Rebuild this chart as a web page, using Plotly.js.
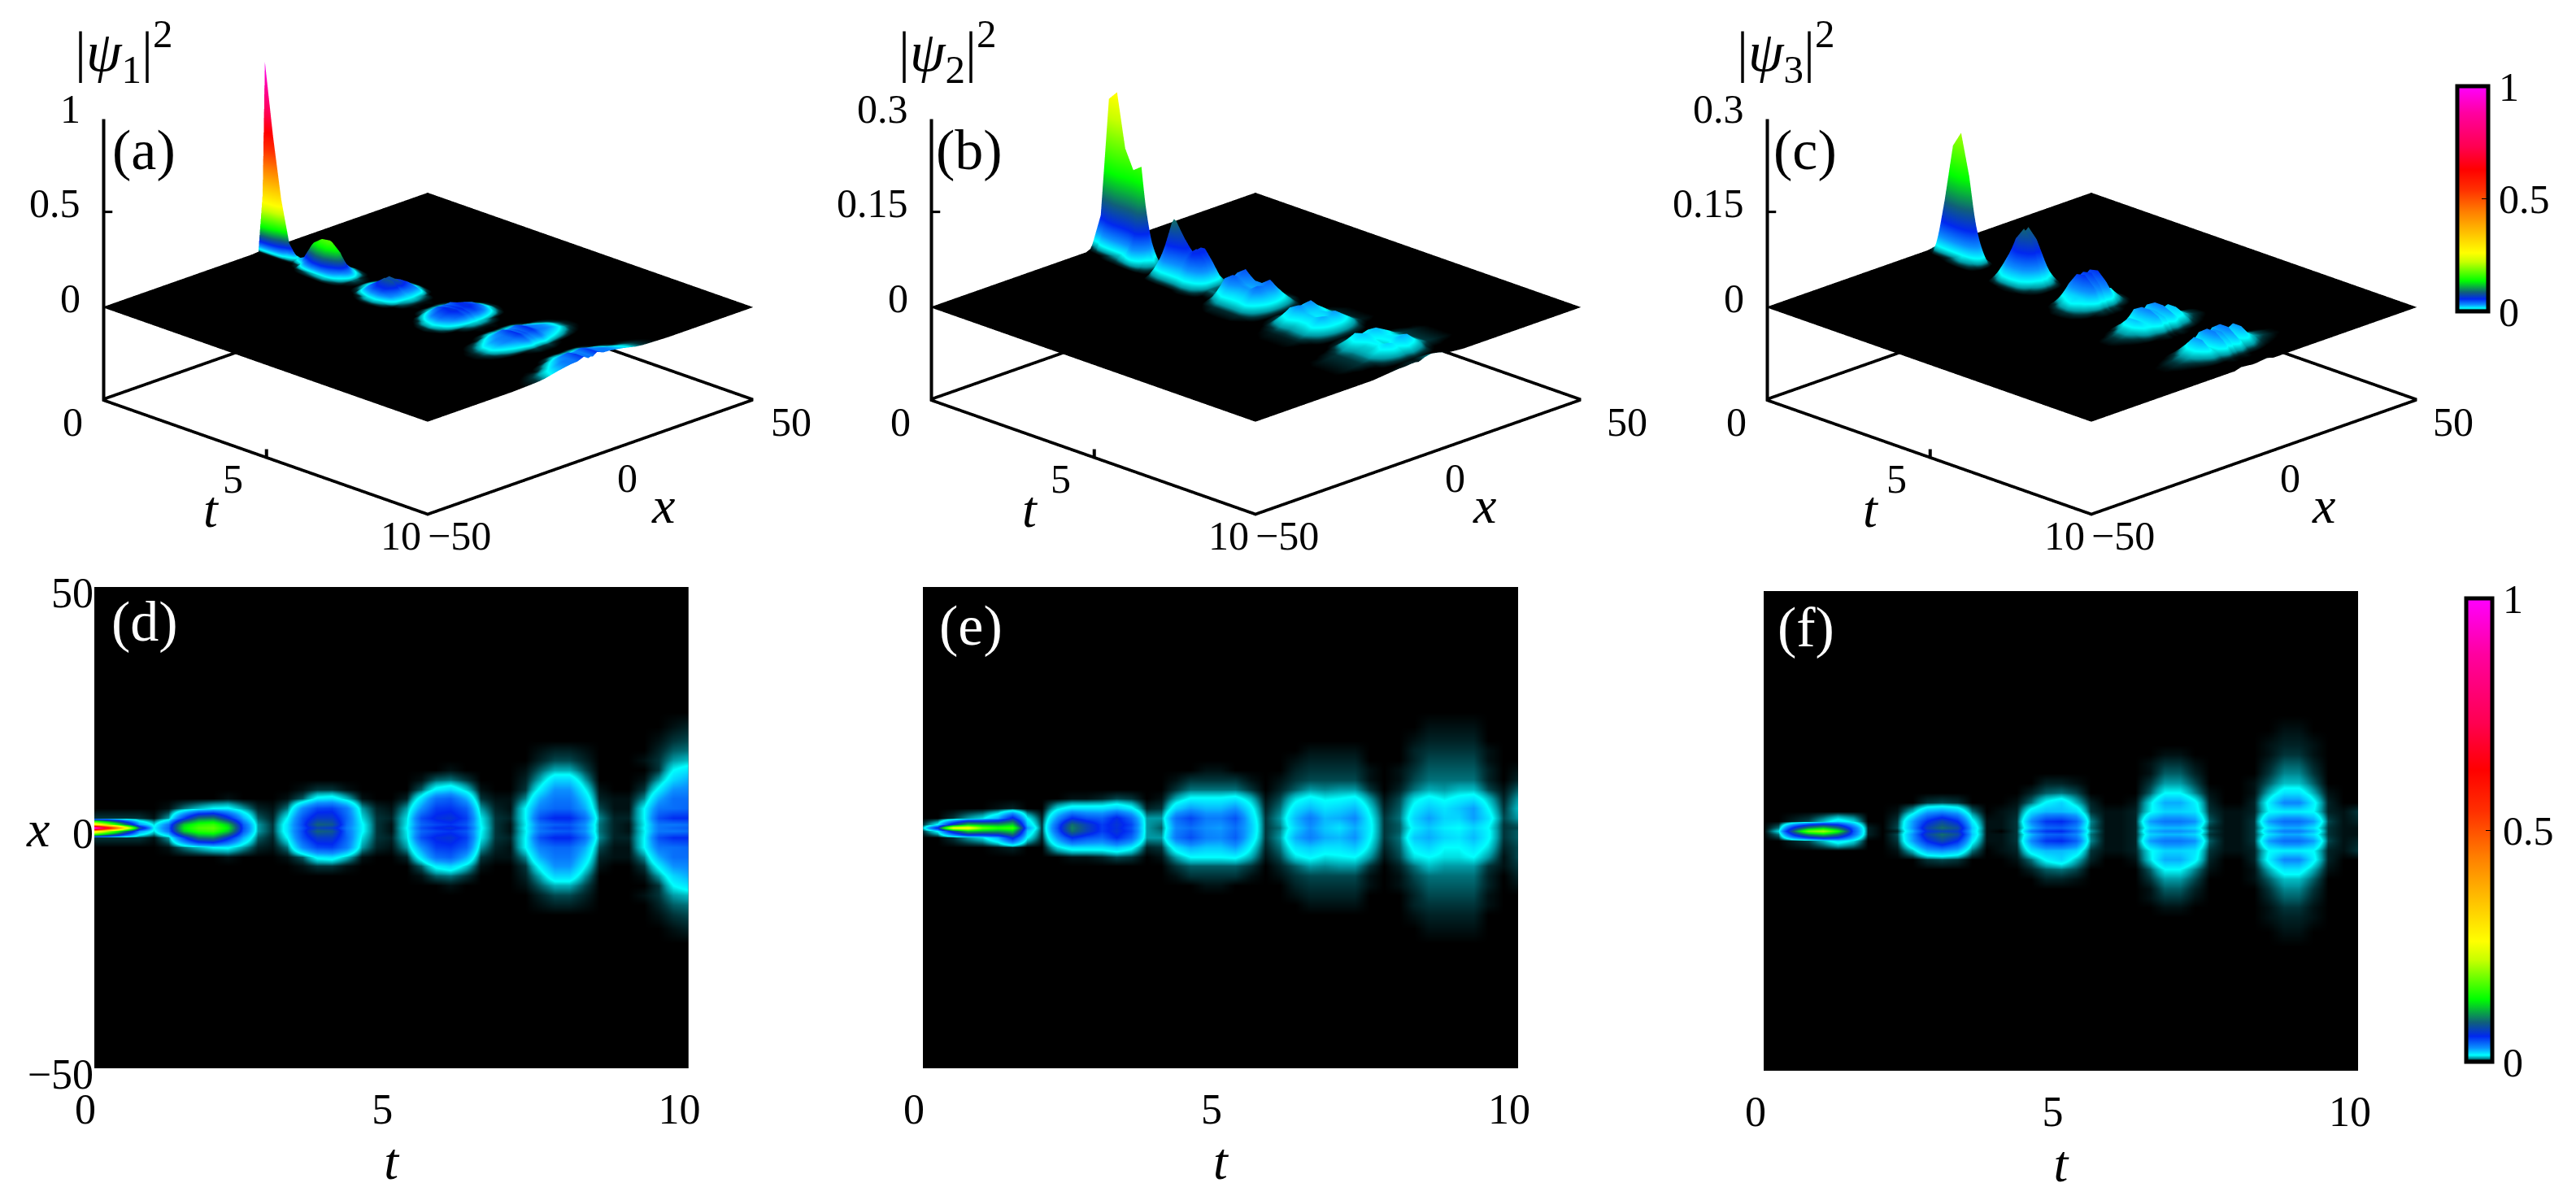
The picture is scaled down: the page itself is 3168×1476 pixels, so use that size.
<!DOCTYPE html>
<html><head><meta charset="utf-8"><script src="https://cdn.plot.ly/plotly-3.0.1.min.js"></script>
<style>html,body{margin:0;padding:0;background:#fff}</style></head><body><div id="g" style="width:3168px;height:1476px"></div>
<script>
const Z=n=>Array(n).fill(0);
const tGrid=[0,.25,.5,.75,1,1.25,1.5,1.75,2,2.25,2.5,2.75,3,3.25,3.5,3.75,4,4.25,4.5,4.75,5,5.25,5.5,5.75,6,6.25,6.5,6.75,7,7.25,7.5,7.75,8,8.25,8.5,8.75,9,9.25,9.5,9.75,10];
const xGrid=[-50,-36,-28,-24,-21,-18,-16,-14,-12,-10,-8,-6,-4,-2,-.7,0,.7,2,4,6,8,10,12,14,16,18,21,24,28,36,50];
const blank=Z(41);
// |psi1|^2 in thousandths, one row per |x| (a) and (d)
const p1_0=[1000,620,300,80,15,40,130,165,172,130,45,8,3,18,45,70,65,35,15,3,1,14,45,55,60,50,15,3,1,14,38,48,48,32,6,2,1,14,36,40,42];
const p1_07=[300,200,100,30,12,36,120,150,158,118,42,8,3,18,48,85,80,38,15,3,1,13,40,48,52,44,14,3,1,13,36,42,44,30,6,2,1,13,36,36,38];
const p1_2=[3,3,3,3,1,8,50,90,95,60,25,5,2,14,45,65,65,40,12,3,2,12,46,58,62,50,13,3,2,14,46,56,56,38,7,2,2,14,46,54,54];
const p1_4=[...Z(5),1,6,10,14,15,8,2,1,6,32,48,50,35,8,2,1,8,30,50,52,42,8,2,1,14,34,40,40,26,4,1,1,14,36,38,40];
const p1_6=[...Z(9),1,0,0,0,1,5,16,18,10,1,0,0,2,18,38,42,26,3,1,1,7,26,36,36,20,2,1,1,7,26,38,38];
const p1_8=[...Z(14),1,3,3,1,0,0,0,0,5,16,20,11,1,0,0,3,16,30,30,14,1,0,0,3,16,30,32];
const p1_10=[...Z(22),1,5,6,3,0,0,0,2,9,20,20,8,0,0,0,1,8,20,26];
const p1_12=[...Z(24),1,0,0,0,0,1,5,9,9,4,0,0,0,0,3,14,18];
const p1_14=[...Z(30),2,4,4,2,0,0,0,1,3,8,10];
const p1_16=[...Z(30),1,2,2,1,0,0,0,0,2,5,6];
const p1_18=[...Z(38),1,3,4];
const p1_21=[...Z(39),1,2];
// |psi2|^2 in thousandths (b) and (e)
const p2_0=[10,60,250,265,180,150,160,30,3,45,95,70,50,60,45,8,5,32,38,30,28,38,22,3,6,20,30,22,18,26,16,3,5,16,22,16,14,20,14,3,4];
const p2_07=[3,15,70,120,110,105,120,22,3,42,90,68,50,62,48,8,6,34,42,32,30,40,22,3,7,22,32,23,20,28,16,3,5,18,24,18,16,22,15,3,5];
const p2_p2=[0,0,3,8,12,25,60,14,2,30,55,45,42,58,40,8,8,38,48,35,35,45,20,3,8,24,35,24,26,32,15,3,6,20,28,20,20,28,18,4,8];
const p2_m2=[0,0,3,8,12,25,60,14,2,30,55,45,40,55,40,8,8,36,46,34,32,42,20,3,8,26,34,26,24,30,15,3,6,22,26,20,18,24,15,3,5];
const p2_p4=[0,0,0,0,0,1,2,0,0,12,18,18,18,22,16,2,3,20,28,24,24,30,16,2,6,18,24,18,20,24,12,2,5,16,22,18,22,28,14,3,10];
const p2_m4=[0,0,0,0,0,1,2,0,0,12,18,18,18,22,16,2,3,18,26,22,22,28,14,2,6,18,22,18,18,22,12,2,5,16,20,14,14,18,12,2,4];
const p2_p6=[...Z(8),0,0,1,1,2,4,3,0,1,9,15,15,15,17,10,1,4,12,16,13,14,16,8,1,4,12,16,13,16,18,10,2,8];
const p2_m6=[...Z(8),0,0,1,1,2,4,3,0,1,8,14,14,14,15,9,1,4,12,15,12,13,14,8,1,4,12,14,12,12,14,8,1,4];
const p2_p8=[...Z(16),0,3,6,6,6,6,3,0,2,5,8,7,8,8,3,0,2,6,9,8,10,10,4,1,5];
const p2_m8=[...Z(16),0,3,5,5,5,5,3,0,2,5,8,7,8,8,3,0,2,6,10,8,8,8,3,1,3];
const p2_10=[...Z(16),0,1,3,3,3,3,1,0,1,3,4,4,4,4,1,0,1,4,6,6,6,6,2,0,2];
const p2_12=[...Z(16),0,0,0,1,1,0,0,0,0,2,3,3,3,3,1,0,1,3,5,5,5,5,2,0,1];
const p2_14=[...Z(24),0,1,2,2,2,2,0,0,0,2,4,4,4,4,1,0,0];
const p2_16=[...Z(24),0,0,1,1,1,1,0,0,0,2,3,3,3,3,1,0,0];
const p2_18=[...Z(32),0,1,2,2,2,2,0,0,0];
const p2_21=[...Z(32),0,0,1,1,1,1,0,0,0];
// |psi3|^2 in thousandths (c) and (f)
const p3_0=[0,12,90,180,205,140,45,2,0,2,25,60,70,65,20,1,0,3,35,52,55,40,8,1,1,2,25,30,30,26,4,1,1,3,24,34,34,24,3,1,1];
const p3_07=[0,6,60,100,120,90,40,2,0,4,30,70,90,75,22,1,1,3,24,40,42,32,6,1,1,2,20,24,24,20,3,1,1,3,18,26,26,18,3,1,1];
const p3_2=[0,0,2,4,10,18,12,0,0,3,28,55,72,55,16,1,1,3,32,52,55,42,7,1,1,2,28,36,36,30,5,1,1,3,28,38,38,28,4,1,2];
const p3_4=[...Z(8),0,1,10,26,30,24,6,0,1,2,18,24,24,20,3,1,1,2,13,20,20,18,3,1,1,2,14,16,16,14,2,1,3];
const p3_6=[...Z(8),0,0,0,3,4,3,0,0,0,1,6,15,20,10,2,0,0,1,12,26,26,16,2,0,0,2,16,32,32,16,2,0,0];
const p3_8=[...Z(16),0,0,2,5,6,4,0,0,0,0,5,14,14,7,1,0,0,1,9,18,18,9,1,0,0];
const p3_10=[...Z(16),0,0,0,2,2,1,0,0,0,0,3,8,8,4,0,0,0,1,5,10,10,5,0,0,0];
const p3_12=[...Z(24),0,0,1,5,5,2,0,0,0,0,3,7,7,3,0,0,0];
const p3_14=[...Z(24),0,0,1,3,3,1,0,0,0,0,2,5,5,2,0,0,0];
const p3_16=[...Z(24),0,0,0,1,1,0,0,0,0,0,1,3,3,1,0,0,0];
const p3_18=[...Z(32),0,0,1,2,2,1,0,0,0];
const p3_21=[...Z(32),0,0,0,1,1,0,0,0,0];
const milli=rows=>rows.map(r=>r.map(v=>v/1000));
const psi1=milli([blank,blank,blank,blank,p1_21,p1_18,p1_16,p1_14,p1_12,p1_10,p1_8,p1_6,p1_4,p1_2,p1_07,p1_0,p1_07,p1_2,p1_4,p1_6,p1_8,p1_10,p1_12,p1_14,p1_16,p1_18,p1_21,blank,blank,blank,blank]);
const psi2=milli([blank,blank,blank,blank,p2_21,p2_18,p2_16,p2_14,p2_12,p2_10,p2_m8,p2_m6,p2_m4,p2_m2,p2_07,p2_0,p2_07,p2_p2,p2_p4,p2_p6,p2_p8,p2_10,p2_12,p2_14,p2_16,p2_18,p2_21,blank,blank,blank,blank]);
const psi3=milli([blank,blank,blank,blank,p3_21,p3_18,p3_16,p3_14,p3_12,p3_10,p3_8,p3_6,p3_4,p3_2,p3_07,p3_0,p3_07,p3_2,p3_4,p3_6,p3_8,p3_10,p3_12,p3_14,p3_16,p3_18,p3_21,blank,blank,blank,blank]);
const fields=[psi1,psi2,psi3];
const cs=[[0,'#000000'],[.003,'#003338'],[.008,'#009aa5'],[.014,'#00ffff'],[.03,'#0a90ff'],[.055,'#0028f0'],[.085,'#10607a'],[.135,'#00ff00'],[.22,'#c8ff00'],[.26,'#ffff00'],[.44,'#ff8000'],[.54,'#ff3000'],[.63,'#ff0000'],[.73,'#ff0050'],[.88,'#ff00a0'],[1,'#ff00ff']];
const W=3168,H=1476,px=x=>x/W,py=y=>1-y/H;
const serif='Liberation Serif';
const centers=[526,1544,2571.5];
const zTop=[1,.3,.3];
const zTickText=[['1','0.5'],['0.3','0.15'],['0.3','0.15']];
const tLabelShift=[-66,-77,-70], xLabelShift=[89,81,86], x50Shift=[46,56,45];
const titleX=[152,1165,2196], tagX=[177,1192,2220], tagText=['(a)','(b)','(c)'];
const psiText=[1,2,3].map(n=>`|<i>ψ</i><sub>${n}</sub>|<sup>2</sup>`);
const eye=2.5,boxScale=1.77;
const fTick={family:serif,size:50,color:'#000'},fLab={family:serif,size:64,color:'#000'};
const cbar=(x,y0,y1,th)=>({x:px(x),xanchor:'left',y:py((y0+y1)/2),yanchor:'middle',len:(y1-y0)/H,thickness:th,xpad:0,ypad:0,outlinewidth:5,outlinecolor:'#000',tickvals:[0,.5,1],ticks:'inside',ticklen:10,tickcolor:'#000',tickfont:fTick});
function frameMesh(s,zt){
 const z0=-zt/2,m={type:'mesh3d',scene:s,color:'#000',hoverinfo:'skip',flatshading:true,lighting:{ambient:1,diffuse:0,specular:0,roughness:1,fresnel:0},x:[],y:[],z:[],i:[],j:[],k:[]};
 const rib=(a,b,d)=>{const n=m.x.length;[a,b,[b[0]+d[0],b[1]+d[1],b[2]+d[2]],[a[0]+d[0],a[1]+d[1],a[2]+d[2]]].forEach(p=>{m.x.push(p[0]);m.y.push(p[1]);m.z.push(p[2]);});m.i.push(n,n);m.j.push(n+1,n+2);m.k.push(n+2,n+3);};
 const up=[0,0,zt*4/231],side=[.05,.5,0];
 rib([0,-50,z0],[10,-50,z0],up);rib([10,-50,z0],[10,50,z0],up);rib([10,50,z0],[0,50,z0],up);rib([0,50,z0],[0,-50,z0],up);
 rib([0,-50,z0],[0,-50,zt],side);
 rib([0,-50,zt],[.16,-48.4,zt],[0,0,zt*3/231]);rib([0,-50,zt/2],[.16,-48.4,zt/2],[0,0,zt*3/231]);
 rib([5,-50,z0],[5,-50,z0+zt*.05],side);rib([10,0,z0],[10,0,z0+zt*.05],[-.05,.5,0]);
 rib([0,50,0],[0,50,zt*.02],[.05,-.5,0]);
 return m;
}
const data=[],scenes={},annos=[];
centers.forEach((c,i)=>{
 const s=i?'scene'+(i+1):'scene';
 data.push({type:'surface',scene:s,x:tGrid,y:xGrid,z:fields[i],colorscale:cs,cmin:0,cmax:1,showscale:i==2,hoverinfo:'skip',
   lighting:{ambient:1,diffuse:0,specular:0,roughness:1,fresnel:0},colorbar:cbar(3022,106,383,38)});
 const zt=zTop[i],z0=-zt/2;
 data.push(frameMesh(s,zt));
 const a=(x,y,z,text,xshift,yshift,font,xanchor)=>({x,y,z,text,xshift,yshift,showarrow:false,font:font||fTick,xanchor:xanchor||'center',yanchor:'middle'});
 const ann=[
  a(0,-50,zt,zTickText[i][0],-24,12,fTick,'right'),a(0,-50,zt/2,zTickText[i][1],-24,12,fTick,'right'),a(0,-50,0,'0',-24,11,fTick,'right'),a(0,-50,z0,'0',-21,-25,fTick,'right'),
  a(5,-50,z0,'5',-39,-25),a(5,-50,z0,'<i>t</i>',tLabelShift[i],-62,fLab),a(10,-50,z0,'10',-33,-24),a(10,-50,z0,'−50',39,-24),
  a(10,0,z0,'0',45,-24),a(10,0,z0,'<i>x</i>',xLabelShift[i],-57,fLab),a(10,50,z0,'50',x50Shift[i],-25)];
 scenes[s]={domain:{x:[px(c-440),px(c+440)],y:[py(640),1]},camera:{projection:{type:'orthographic'},eye:{x:eye/Math.SQRT2,y:-eye/Math.SQRT2,z:eye*Math.tan(20.6*Math.PI/180)},center:{x:0,y:0,z:0},up:{x:0,y:0,z:1}},
   aspectmode:'manual',aspectratio:{x:boxScale,y:boxScale,z:.655*boxScale},annotations:ann,
   xaxis:{visible:false,range:[0,10]},yaxis:{visible:false,range:[-50,50]},zaxis:{visible:false,range:[z0,zt]}};
 annos.push({xref:'paper',yref:'paper',x:px(titleX[i]),y:py(63),xanchor:'center',yanchor:'middle',text:psiText[i],showarrow:false,font:{family:serif,size:70,color:'#000'}});
 annos.push({xref:'paper',yref:'paper',x:px(tagX[i]),y:py(185),xanchor:'center',yanchor:'middle',text:tagText[i],showarrow:false,font:{family:serif,size:70,color:'#000'}});
});
const hm=[[116,846.5,722,1314,-11,['(d)',177.5,764]],[1135,1867,722,1314,-11,['(e)',1194,769]],[2169,2900,727,1317,-10,['(f)',2221,772]]];
const axes={};
hm.forEach((h,i)=>{
 const n=i?i+1:'';
 data.push({type:'heatmap',x:tGrid,y:xGrid,z:fields[i],xaxis:'x'+n,yaxis:'y'+n,colorscale:cs,zmin:0,zmax:1,zsmooth:'best',hoverinfo:'skip',showscale:i==0,colorbar:cbar(3033,736,1306,32)});
 axes['xaxis'+n]={domain:[px(h[0]),px(h[1])],anchor:'y'+n,range:[0,10],tickvals:[0,5,10],ticktext:['0','5','10'],showgrid:false,zeroline:false,showline:false,ticks:'',tickfont:{...fTick,size:52},ticklabelshift:h[4],ticklabelstandoff:15,title:{text:'<i>t</i>',font:fLab,standoff:0}};
 axes['yaxis'+n]={domain:[py(h[3]),py(h[2])],anchor:'x'+n,range:[-50,50],showgrid:false,zeroline:false,showline:false,ticks:'',tickfont:{...fTick,size:52},ticklabelshift:7,
   ...(i==0?{tickvals:[-50,0,50],ticktext:['−50','0','50']}:{tickvals:[],showticklabels:false})};
 annos.push({xref:'paper',yref:'paper',x:px(h[5][1]),y:py(h[5][2]),xanchor:'center',yanchor:'middle',text:h[5][0],showarrow:false,font:{family:serif,size:70,color:'#fff'}});
});
annos.push({xref:'paper',yref:'paper',x:px(46),y:py(1019),xanchor:'center',yanchor:'middle',text:'<i>x</i>',showarrow:false,font:fLab});
const layout={width:W,height:H,margin:{l:0,r:0,t:0,b:0},paper_bgcolor:'#fff',plot_bgcolor:'#000',showlegend:false,annotations:annos,...scenes,...axes};
Plotly.newPlot('g',data,layout,{displayModeBar:false});
</script></body></html>
